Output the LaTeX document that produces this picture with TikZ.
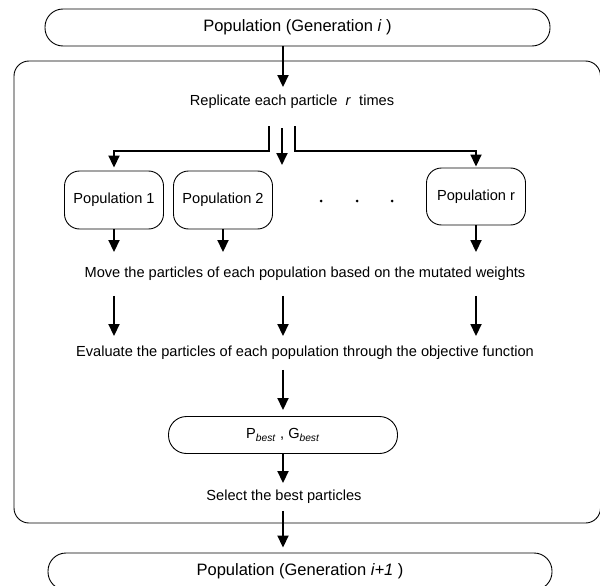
\documentclass[tikz,border=0pt]{standalone}
\usepackage{fontspec}
\setmainfont{Liberation Sans}
\usetikzlibrary{arrows.meta}
\tikzset{
  box/.style={draw,line width=0.9pt,rounded corners=15pt,align=center,inner sep=0pt},
  pill/.style={box,rounded corners=18pt,minimum height=37pt},
  big/.style={font=\fontsize{16.5}{19}\selectfont},
  txt/.style={inner xsep=0pt,text height=10.5pt,text depth=3pt},
  arr/.style={line width=1.8pt,-{Triangle[width=11pt,length=12pt]}}
}
\begin{document}
\begin{tikzpicture}[x=1pt,y=-1pt,font=\fontsize{14.6}{17}\selectfont]
\useasboundingbox (0,0) rectangle (600,586);
\draw[line width=0.9pt,rounded corners=15pt] (14,61) rectangle (600.5,523);
\node[pill,big,minimum width=505pt] (top) at (297.5,27.5) {Population (Generation \textit{i} )};
\node[txt,inner ysep=8pt] (rep) at (292,102) {Replicate each particle\ \ \textit{r}\ \ times};
\node[box,minimum width=99pt,minimum height=58pt] (pop1) at (114,200) {Population 1};
\node[box,minimum width=99pt,minimum height=58pt] (pop2) at (223,200) {Population 2};
\node[box,minimum width=99pt,minimum height=57pt] (popr) at (476,196.5) {Population r};
\foreach \x in {321,357,392} \fill (\x,201) circle (1.5pt);
\node[txt,inner ysep=15pt] (mv) at (305,274) {Move the particles of each population based on the mutated weights};
\node[txt,inner ysep=10pt] (ev) at (305,353) {Evaluate the particles of each population through the objective function};
\node[pill,minimum width=229pt] (pb) at (283,435) {P\textsubscript{\textit{best}} , G\textsubscript{\textit{best}}};
\node[txt,inner ysep=7pt] (sel) at (284,497) {Select the best particles};
\node[pill,big,minimum width=504pt] (bot) at (300,571.5) {Population (Generation \textit{i+1} )};
\coordinate (sl) at (269,126);
\coordinate (sm) at (282,128);
\coordinate (smend) at (282,165);
\coordinate (sr) at (295,126);

\draw[arr] (top.south -| pb) -- (rep.north -| pb);
\draw[arr,shorten >=3pt] (sl) -- ++(0,25) -| (pop1.north);
\draw[arr] (sm) -- (smend);
\draw[arr,shorten >=1pt] (sr) -- ++(0,25) -| (popr.north);
\foreach \p in {pop1,pop2,popr} \draw[arr] (\p.south) -- (\p.south |- mv.north);
\foreach \p in {pop1,pb,popr} \draw[arr] (mv.south -| \p) -- (ev.north -| \p);
\draw[arr,shorten >=6pt] (ev.south -| pb) -- (pb.north);
\draw[arr] (pb.south) -- (sel.north -| pb);
\draw[arr,shorten >=5pt] (sel.south -| pb) -- (bot.north -| pb);
\end{tikzpicture}
\end{document}
